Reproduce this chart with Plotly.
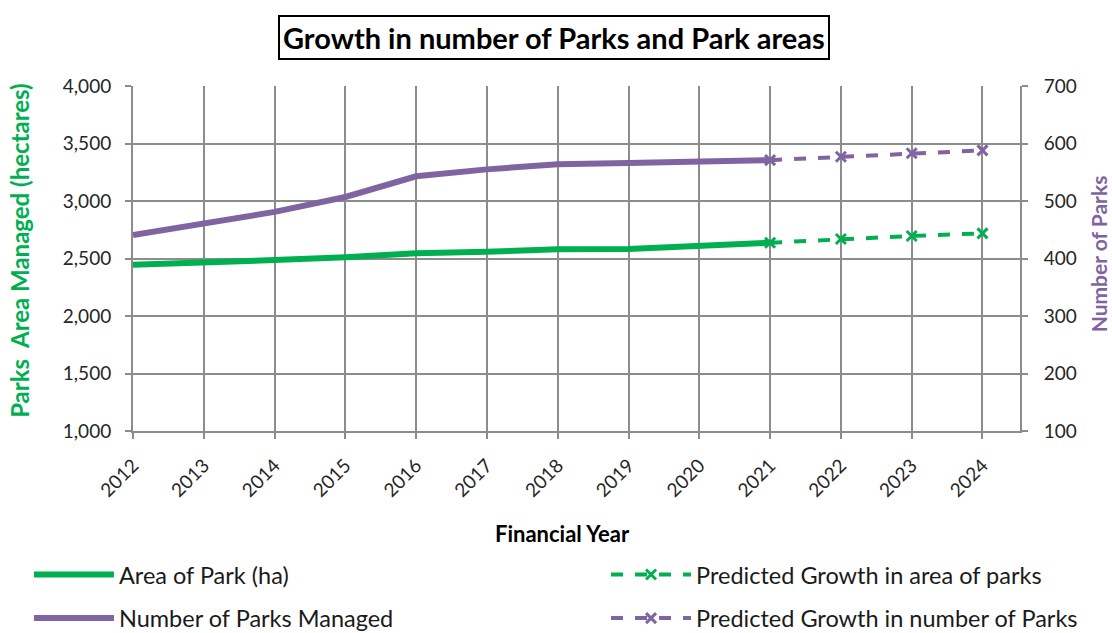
import plotly.graph_objects as go

# Financial years and measured values
years_actual = [2012, 2013, 2014, 2015, 2016, 2017, 2018, 2019, 2020, 2021]
area_ha = [2445, 2472, 2487, 2510, 2545, 2559, 2580, 2582, 2615, 2637]
parks_count = [441, 461, 481, 507, 543, 555, 564, 566, 569, 571]

# Forecast years (start from the last actual year)
years_pred = [2021, 2022, 2023, 2024]
area_pred = [2637, 2670, 2696, 2719]
parks_pred = [571, 577, 583, 588]

all_years = list(range(2012, 2025))

GREEN = "#00B050"
PURPLE = "#8064A2"
GRID = "#8C8C8C"
FONT = "Lato"

fig = go.Figure()

fig.add_trace(go.Scatter(
    x=years_actual, y=area_ha, name="Area of Park (ha)",
    mode="lines", line=dict(color=GREEN, width=6),
    legend="legend", legendgroup="a"))
fig.add_trace(go.Scatter(
    x=years_actual, y=parks_count, name="Number of Parks Managed",
    mode="lines", line=dict(color=PURPLE, width=6), yaxis="y2",
    legend="legend", legendgroup="b"))
fig.add_trace(go.Scatter(
    x=years_pred, y=area_pred, name="Predicted Growth in area of parks",
    mode="lines+markers", line=dict(color=GREEN, width=4, dash="dash"),
    marker=dict(symbol="x-thin", size=10, line=dict(color=GREEN, width=3)),
    legend="legend2", legendgroup="c"))
fig.add_trace(go.Scatter(
    x=years_pred, y=parks_pred, name="Predicted Growth in number of Parks",
    mode="lines+markers", line=dict(color=PURPLE, width=4, dash="dash"),
    marker=dict(symbol="x-thin", size=10, line=dict(color=PURPLE, width=3)),
    yaxis="y2", legend="legend2", legendgroup="d"))

axis_common = dict(
    showline=True, linecolor=GRID, linewidth=2,
    showgrid=True, gridcolor=GRID, gridwidth=2,
    ticks="outside", tickcolor=GRID, tickwidth=2, ticklen=6,
    tickfont=dict(family=FONT, size=19, color="#262626"),
    zeroline=False, automargin=False,
)

legend_common = dict(
    orientation="v", xanchor="left", yanchor="top",
    font=dict(family=FONT, size=23.5, color="#1a1a1a"),
    itemwidth=80, tracegroupgap=10, bgcolor="rgba(0,0,0,0)",
)

fig.update_layout(
    width=1112, height=633,
    margin=dict(l=133, r=92, t=86, b=202, autoexpand=False),
    paper_bgcolor="white", plot_bgcolor="white",
    font=dict(family=FONT),
    xaxis=dict(
        axis_common, range=[2012, 2024.53], tickmode="array",
        tickvals=all_years, ticktext=[str(y) for y in all_years],
        tickangle=-45, ticklabelstandoff=8,
    ),
    yaxis=dict(
        axis_common, range=[1000, 4000], dtick=500, tickformat=",",
        ticklabelstandoff=10,
    ),
    yaxis2=dict(
        axis_common, range=[100, 700], dtick=100, overlaying="y", side="right",
        showgrid=False, ticklabelstandoff=12,
    ),
    legend=dict(legend_common, x=-0.1173, y=-0.353),
    legend2=dict(legend_common, x=0.5333, y=-0.353),
    showlegend=True,
)

# Chart title in a box
fig.add_annotation(
    text="<b>Growth in number of Parks and Park areas</b>",
    xref="paper", yref="paper", x=0.4746, y=1.142,
    xanchor="center", yanchor="middle",
    showarrow=False, font=dict(family=FONT, size=29, color="black"),
    bordercolor="black", borderwidth=2, borderpad=3, bgcolor="white",
)

# Axis titles
fig.add_annotation(
    text="<b>Financial Year</b>", xref="paper", yref="paper",
    x=0.4837, y=-0.2957, xanchor="center", yanchor="middle",
    showarrow=False, font=dict(family=FONT, size=22, color="black"),
)
fig.add_annotation(
    text="<b>Parks  Area Managed (hectares)</b>", xref="paper", yref="paper",
    x=-0.1274, y=0.525, xanchor="center", yanchor="middle",
    textangle=-90, showarrow=False,
    font=dict(family=FONT, size=24, color=GREEN),
)
fig.add_annotation(
    text="<b>Number of Parks</b>", xref="paper", yref="paper",
    x=1.0879, y=0.515, xanchor="center", yanchor="middle",
    textangle=-90, showarrow=False,
    font=dict(family=FONT, size=21, color=PURPLE),
)

fig.write_html("out.html")
